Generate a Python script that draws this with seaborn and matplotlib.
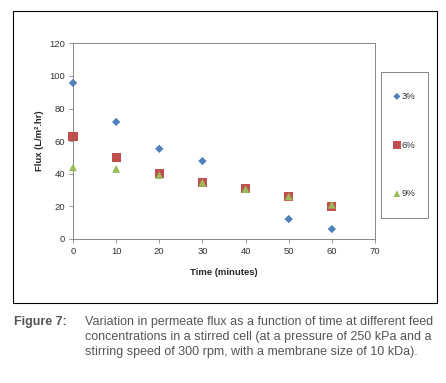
import pandas as pd
import matplotlib
matplotlib.use("Agg")
import matplotlib.pyplot as plt
from matplotlib.patches import Rectangle
import seaborn as sns

time = [0, 10, 20, 30, 40, 50, 60]
flux_3 = [95.7, 71.8, 55.3, 47.8, None, 12.2, 6.1]
flux_6 = [62.6, 50.2, 40.0, 34.9, 31.2, 25.9, 20.2]
flux_9 = [44.0, 43.0, 39.2, 34.5, 30.6, 26.1, 21.0]
labels = ["3%", "6%", "9%"]

rows = []
for lab, vals in zip(labels, [flux_3, flux_6, flux_9]):
    for t, v in zip(time, vals):
        if v is not None:
            rows.append({"Time": t, "Flux": v, "Conc": lab})
df = pd.DataFrame(rows)

sns.set_style("white")
plt.rcParams['font.family'] = ['Liberation Sans', 'DejaVu Sans']

fig = plt.figure(figsize=(4.46, 3.83), dpi=100)
ax = fig.add_axes([73/446, 1-239/383, (375-73)/446, (239-43.3)/383])

pal = {"3%": "#4F81BD", "6%": "#C0504D", "9%": "#9BBB59"}
mk = {"3%": "D", "6%": "s", "9%": "^"}
sizes = {"3%": 18, "6%": 42, "9%": 32}
for lab in labels:
    sub = df[df.Conc == lab]
    sns.scatterplot(data=sub, x="Time", y="Flux", color=pal[lab], marker=mk[lab],
                    s=sizes[lab], edgecolor="none", ax=ax, label=lab, zorder=3,
                    clip_on=False)

ax.set_xlim(0, 70)
ax.set_ylim(0, 120)
ax.set_xticks(range(0, 71, 10))
ax.set_yticks(range(0, 121, 20))
ax.tick_params(axis='both', labelsize=6.8, length=3, width=0.6, color='#868686',
               direction='out', pad=2.5, labelcolor='#333333')
ax.tick_params(axis='x', bottom=True)
ax.tick_params(axis='y', left=True)
for s in ax.spines.values():
    s.set_color('#868686')
    s.set_linewidth(0.7)
ax.set_xlabel("Time (minutes)", fontsize=6.8, fontweight='bold', labelpad=9)
ax.set_ylabel("Flux (L/m².hr)", fontsize=6.8, fontweight='bold', labelpad=4)

# legend entries without frame, frame drawn separately
leg = ax.legend(loc='center', bbox_to_anchor=(404.5/446, 1-145/383),
                bbox_transform=fig.transFigure, fontsize=6.8, frameon=False,
                labelspacing=4.2, borderpad=0, handlelength=0.6,
                handletextpad=0.15, borderaxespad=0, markerscale=0.85)
for t in leg.get_texts():
    t.set_color('#333333')
fig.patches.append(Rectangle((380.7/446, 1-218/383), 47.6/446, 146/383,
                             transform=fig.transFigure, fill=False,
                             edgecolor='#868686', linewidth=0.7))

# outer frame of the chart
fig.patches.append(Rectangle((13/446, 1-303/383), 424/446, 292/383,
                             transform=fig.transFigure, fill=False,
                             edgecolor='black', linewidth=0.8))

fig.text(14/446, 1-321.7/383, "Figure 7:", fontsize=9, fontweight='bold',
         color='#555555', va='center')
caption = ["Variation in permeate flux as a function of time at different feed",
           "concentrations in a stirred cell (at a pressure of 250 kPa and a",
           "stirring speed of 300 rpm, with a membrane size of 10 kDa)."]
for i, line in enumerate(caption):
    fig.text(85/446, 1-(321.7+15*i)/383, line, fontsize=9, color='#555555',
             va='center')

fig.savefig("out.png", dpi=100)
